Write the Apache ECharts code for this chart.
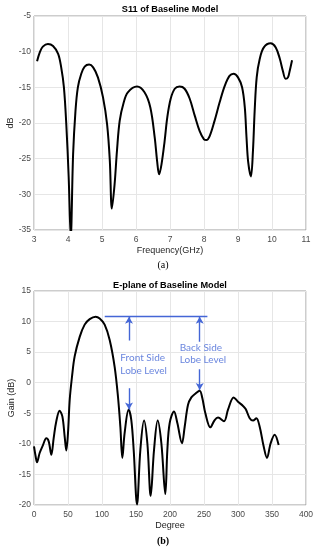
<!DOCTYPE html>
<html><head><meta charset="utf-8">
<script src="https://cdn.jsdelivr.net/npm/echarts@6/dist/echarts.min.js"></script>
<style>html,body{margin:0;padding:0;background:#fff}#c{width:318px;height:550px}</style>
</head><body><div id="c"></div>
<script>
// S11 chart data
const s11Freq = [3.09,3.17,3.26,3.41,3.56,3.71,3.80,3.88,3.95,4.02,4.08,4.15,4.22,4.29,4.39,4.49,4.62,4.74,4.88,5.03,5.15,5.23,5.29,5.37,5.44,5.52,5.64,5.76,6.03,6.25,6.42,6.55,6.62,6.68,6.75,6.84,6.92,7.02,7.14,7.28,7.43,7.58,7.73,7.87,8.00,8.07,8.17,8.31,8.46,8.61,8.75,8.87,9.00,9.12,9.20,9.25,9.30,9.38,9.44,9.49,9.55,9.64,9.76,9.96,10.11,10.23,10.32,10.40,10.47,10.52,10.59];
const s11dB = [-11.36,-10.1,-9.3,-8.92,-9.2,-10.3,-12.2,-15.0,-20.2,-27.6,-36,-24.4,-18.3,-15.0,-13.1,-12.1,-11.8,-12.2,-13.6,-16.4,-20.2,-25.3,-32.0,-28.6,-23.9,-19.7,-17.1,-15.7,-14.9,-15.7,-17.8,-22.0,-25.3,-27.2,-25.8,-22.6,-19.2,-16.6,-15.2,-14.9,-15.2,-16.6,-19.0,-21.1,-22.3,-22.4,-21.8,-19.7,-17.1,-14.8,-13.4,-13.1,-13.6,-15.0,-17.8,-22.0,-25.5,-27.5,-23.9,-18.3,-13.6,-11.0,-9.4,-8.83,-9.4,-11.0,-12.7,-13.8,-13.6,-12.7,-11.2];
const s11XTicks = [3,4,5,6,7,8,9,10,11];
const s11YTicks = [-35,-30,-25,-20,-15,-10,-5];

// E-plane chart data
const eDeg = [0,2.5,4.4,8.3,13.2,18.1,21.6,25.5,28.9,32.8,37.7,41.7,45.1,47.5,50,52.5,55.9,59.8,67.2,74.5,81.9,90.7,96.6,103.9,111.3,118.6,123.5,127,129.9,133.3,139.2,143.1,146.6,151.5,156.4,161.8,166.7,171.6,176.5,181.9,187.3,193.1,196.1,199.5,205.9,210.8,217.6,221.6,226.5,231.4,237.3,243.6,247.5,252,259.3,265.7,270.6,279.4,285.3,293.6,300,307.4,311.3,317.2,322.1,327,331.9,337.7,342.6,348,353.9,359.8];
const eGain = [-10.4,-12.1,-13.0,-11.5,-10.2,-9.1,-9.6,-11.8,-9.1,-6.3,-4.6,-5.5,-8.8,-11.1,-8.2,-2.8,1.0,4.3,7.5,9.5,10.4,10.8,10.5,9.5,7.0,2.6,-2.3,-7.2,-12.3,-8.2,-4.4,-6.1,-11.0,-19.9,-11.0,-6.2,-9.9,-18.5,-11.0,-6.2,-9.9,-18.2,-11.0,-6.6,-4.7,-6.6,-9.9,-7.2,-3.6,-2.4,-1.8,-1.3,-2.5,-5.0,-7.3,-6.1,-5.7,-6.3,-4.4,-2.4,-3.1,-3.8,-4.3,-5.8,-6.2,-5.8,-7.2,-10.4,-12.3,-9.9,-8.5,-10.2];
const eXTicks = [0,50,100,150,200,250,300,350,400];
const eYTicks = [-20,-15,-10,-5,0,5,10,15];

// annotation values (data units)
const refLineDeg = [104, 255];
const refLevel = 10.8;
const frontArrowDeg = 139.7;
const frontUpper = [6.9, 10.8];
const frontLower = [-0.9, -4.4];
const backArrowDeg = 243.7;
const backUpper = [6.7, 10.8];
const backLower = [2.2, -1.2];
const annoTexts = ['Front Side\nLobe Level', 'Back Side\nLobe Level'];
const annoPos = [[127, 3.0], [214.3, 4.75]];

const chart = echarts.init(document.getElementById('c'), null, {renderer: 'canvas'});
const blue = '#4466d6';
const tickFont = {fontFamily: 'Liberation Sans, Arial', fontSize: 8.5, color: '#4a4a4a'};
const nameFont = {fontFamily: 'Liberation Sans, Arial', fontSize: 9, color: '#262626'};

function xAx(idx, ticks, name) {
  return {
    gridIndex: idx, type: 'value', min: ticks[0], max: ticks[ticks.length - 1],
    interval: ticks[1] - ticks[0],
    name: name, nameLocation: 'middle', nameGap: 16, nameMoveOverlap: false, nameTextStyle: nameFont,
    axisLine: {show: false}, axisTick: {show: false},
    axisLabel: Object.assign({margin: 5}, tickFont),
    splitLine: {show: true, lineStyle: {color: '#e6e6e6', width: 1}}
  };
}
function yAx(idx, ticks, name, gap) {
  return {
    gridIndex: idx, type: 'value', min: ticks[0], max: ticks[ticks.length - 1],
    interval: ticks[1] - ticks[0],
    name: name, nameLocation: 'middle', nameGap: gap, nameRotate: 90, nameMoveOverlap: false, nameTextStyle: nameFont,
    axisLine: {show: false}, axisTick: {show: false},
    axisLabel: Object.assign({margin: 3}, tickFont),
    splitLine: {show: true, lineStyle: {color: '#e6e6e6', width: 1}}
  };
}

const arrowLine = (x, from, to) => [
  {coord: [x, from], symbol: 'none'},
  {coord: [x, to], symbol: 'arrow', symbolSize: [6, 7]}
];

const titleStyle = {fontFamily: 'Liberation Sans, Arial', fontSize: 9.2, fontWeight: 'bold', color: '#000'};

chart.setOption({
  animation: false,
  title: [
    {text: 'S11 of Baseline Model', left: 170, top: 4.5, padding: 0, textAlign: 'center', textStyle: titleStyle},
    {text: 'E-plane of Baseline Model', left: 170, top: 280.5, padding: 0, textAlign: 'center', textStyle: titleStyle},
    {text: '(a)', left: 163, top: 260, padding: 0, textAlign: 'center',
     textStyle: {fontFamily: 'Liberation Serif, Times New Roman', fontSize: 10, fontWeight: 'normal', color: '#000'}},
    {text: '(b)', left: 163, top: 536, padding: 0, textAlign: 'center',
     textStyle: {fontFamily: 'Liberation Serif, Times New Roman', fontSize: 10, fontWeight: 'bold', color: '#000'}}
  ],
  grid: [
    {left: 34, top: 16, width: 272, height: 214, outerBoundsMode: 'none', containLabel: false,
     show: true, borderColor: '#9a9a9a', borderWidth: 1, backgroundColor: 'transparent'},
    {left: 34, top: 291, width: 272, height: 214, outerBoundsMode: 'none', containLabel: false,
     show: true, borderColor: '#9a9a9a', borderWidth: 1, backgroundColor: 'transparent'}
  ],
  xAxis: [xAx(0, s11XTicks, 'Frequency(GHz)'), xAx(1, eXTicks, 'Degree')],
  yAxis: [yAx(0, s11YTicks, 'dB', 19), yAx(1, eYTicks, 'Gain (dB)', 18)],
  series: [
    {type: 'line', xAxisIndex: 0, yAxisIndex: 0, data: s11Freq.map((f, i) => [f, s11dB[i]]),
     showSymbol: false, smooth: 0.35, clip: true, lineStyle: {color: '#000', width: 2}},
    {type: 'line', xAxisIndex: 1, yAxisIndex: 1, data: eDeg.map((d, i) => [d, eGain[i]]),
     showSymbol: false, smooth: 0.35, clip: true, lineStyle: {color: '#000', width: 2}},
    {type: 'scatter', xAxisIndex: 1, yAxisIndex: 1, symbolSize: 0,
     data: annoPos.map((p, i) => ({value: p, name: annoTexts[i]})),
     label: {show: true, position: 'inside', align: 'left', verticalAlign: 'middle',
             formatter: p => p.name, fontFamily: 'Lato, Open Sans', fontSize: 10, lineHeight: 12.5, color: blue},
     markLine: {
       silent: true, animation: false,
       lineStyle: {color: blue, width: 1.4, type: 'solid'},
       label: {show: false},
       data: [
         [{coord: [refLineDeg[0], refLevel], symbol: 'none'}, {coord: [refLineDeg[1], refLevel], symbol: 'none'}],
         arrowLine(frontArrowDeg, frontUpper[0], frontUpper[1]),
         arrowLine(frontArrowDeg, frontLower[0], frontLower[1]),
         arrowLine(backArrowDeg, backUpper[0], backUpper[1]),
         arrowLine(backArrowDeg, backLower[0], backLower[1])
       ]
     }}
  ]
});
</script></body></html>
